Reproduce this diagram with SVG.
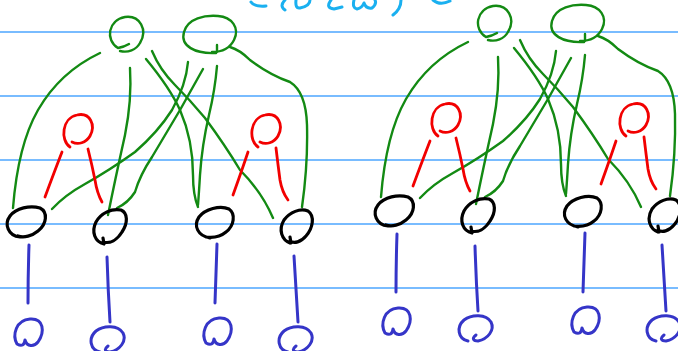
<svg xmlns="http://www.w3.org/2000/svg" width="678" height="351" viewBox="0 0 678 351">
<style>
.rule{stroke:#4da6ff;stroke-width:1.5;fill:none}
.cy{stroke:#1ab0f0;stroke-width:3;fill:none;stroke-linecap:round;stroke-linejoin:round}
.g{stroke:#138a13;stroke-width:2.4;fill:none;stroke-linecap:round;stroke-linejoin:round}
.r{stroke:#f20000;stroke-width:2.8;fill:none;stroke-linecap:round;stroke-linejoin:round}
.k{stroke:#000;stroke-width:3.2;fill:none;stroke-linecap:round;stroke-linejoin:round}
.b{stroke:#3535c8;stroke-width:3;fill:none;stroke-linecap:round;stroke-linejoin:round}
</style>
<rect width="678" height="351" fill="#fff"/>
<g id="rules">
<line class="rule" x1="0" y1="32" x2="678" y2="32"/>
<line class="rule" x1="0" y1="96" x2="678" y2="96"/>
<line class="rule" x1="0" y1="160" x2="678" y2="160"/>
<line class="rule" x1="0" y1="224" x2="678" y2="224"/>
<line class="rule" x1="0" y1="288" x2="678" y2="288"/>
</g>
<g id="cutoff-strokes">
<path class="cy" d="M251,2 Q254,7 266,6"/>
<path class="cy" d="M285,0 Q279,6 285,10"/>
<path class="cy" d="M296,0 Q295,9 300,8 Q310,6 310,0"/>
<path class="cy" d="M331,0 Q325,8 334,9 L342,7"/>
<path class="cy" d="M354,0 Q352,8 357,9 Q362,8 364,3 Q366,9 372,8 Q377,4 375,0"/>
<path class="cy" d="M401,0 Q401,9 393,15"/>
<path class="cy" d="M433,0 Q440,6 450,1"/>
</g>

<g id="groupA">
<g id="A-connectors">
<path class="g" d="M100,53 Q60,72 38,110 Q18,145 13,208"/>
<path class="g" d="M130,68 Q132,100 125,135 Q115,180 108,215"/>
<path class="g" d="M146,59 Q170,88 180,110 Q193,140 193,175 Q193,195 198,207"/>
<path class="g" d="M152,51 Q160,70 175,85 Q190,100 205,118 Q225,145 240,170 Q262,192 273,218"/>
<path class="g" d="M188,62 Q186,85 172,110 Q158,132 135,152 Q110,170 85,184 Q65,195 52,209"/>
<path class="g" d="M203,69 Q190,92 180,110 Q165,135 152,157 Q140,175 135,192 Q128,203 117,208"/>
<path class="g" d="M217,66 Q215,90 209,115 Q202,145 200,175 Q199,192 198,205"/>
<path class="g" d="M230,47 Q240,50 250,60 Q270,75 290,82 Q306,92 307,125 Q308,165 302,207"/>
<path class="r" d="M62,152 Q55,170 45,197"/>
<path class="r" d="M88,149 Q92,165 95,180 Q97,193 102,202"/>
<path class="r" d="M248,152 Q242,170 233,195"/>
<path class="r" d="M276,148 Q278,165 280,180 Q282,192 288,200"/>
<path class="b" d="M29,245 Q28,275 28,303"/>
<path class="b" d="M107,257 Q108,290 110,322"/>
<path class="b" d="M217,244 Q216,275 215,303"/>
<path class="b" d="M294,256 Q296,290 298,322"/>
</g>
<g id="A-green1"><path class="g" d="M118,48 C105,40 108,20 125,17 C140,15 148,30 140,43 C136,50 128,53 120,51 M118,48 Q124,47 129,44"/></g>
<g id="A-green2"><path class="g" d="M216,53 C195,54 180,46 184,32 C188,18 205,15 218,16 C232,17 240,28 234,40 C230,48 222,52 212,52 M217,45 L217,52"/></g>
<g id="A-red1"><path class="r" d="M70,147 C60,140 62,118 77,115 C90,112 96,125 90,136 C86,143 78,145 72,142"/></g>
<g id="A-red2"><path class="r" d="M258,147 C248,140 250,118 265,115 C278,112 284,125 278,136 C274,143 266,145 260,142"/></g>
<g id="A-black1"><path class="k" d="M20,237 C8,236 4,224 10,216 C16,208 30,205 40,208 C48,212 47,224 38,231 C32,236 24,238 18,236"/></g>
<g id="A-black2"><path class="k" d="M104,244 C95,242 91,232 96,222 C101,213 112,208 121,210 C128,213 128,223 122,232 C117,240 110,244 103,242 M103,238 L104,244"/></g>
<g id="A-black3"><path class="k" d="M210,238 C198,236 193,226 199,217 C205,209 220,205 229,209 C236,214 234,226 226,232 C220,237 213,238 206,237"/></g>
<g id="A-black4"><path class="k" d="M290,243 C282,240 278,230 284,220 C290,212 300,208 308,211 C315,216 313,228 306,236 C301,242 294,244 290,241 M290,237 L291,243"/></g>
<g id="A-blue1"><path class="b" d="M25,340 Q24,348 17,344 C12,335 16,320 30,319 C44,318 45,332 38,342 C34,347 27,347 25,340"/></g>
<g id="A-blue2"><path class="b" d="M100,352 C90,350 88,338 96,331 C104,325 118,325 123,333 C127,341 120,350 110,352 C106,352 103,350 108,346"/></g>
<g id="A-blue3"><path class="b" d="M214,339 Q213,347 206,343 C201,334 205,319 219,318 C233,317 234,331 227,341 C223,346 216,346 214,339"/></g>
<g id="A-blue4"><path class="b" d="M288,352 C278,350 276,338 284,331 C292,325 306,325 311,333 C315,341 308,350 298,352 C294,352 291,350 296,346"/></g>
</g>

<g id="groupB" transform="translate(368,-11)">
<g id="B-connectors">
<path class="g" d="M100,53 Q60,72 38,110 Q18,145 13,208"/>
<path class="g" d="M130,68 Q132,100 125,135 Q115,180 108,215"/>
<path class="g" d="M146,59 Q170,88 180,110 Q193,140 193,175 Q193,195 198,207"/>
<path class="g" d="M152,51 Q160,70 175,85 Q190,100 205,118 Q225,145 240,170 Q262,192 273,218"/>
<path class="g" d="M188,62 Q186,85 172,110 Q158,132 135,152 Q110,170 85,184 Q65,195 52,209"/>
<path class="g" d="M203,69 Q190,92 180,110 Q165,135 152,157 Q140,175 135,192 Q128,203 117,208"/>
<path class="g" d="M217,66 Q215,90 209,115 Q202,145 200,175 Q199,192 198,205"/>
<path class="g" d="M230,47 Q240,50 250,60 Q270,75 290,82 Q306,92 307,125 Q308,165 302,207"/>
<path class="r" d="M62,152 Q55,170 45,197"/>
<path class="r" d="M88,149 Q92,165 95,180 Q97,193 102,202"/>
<path class="r" d="M248,152 Q242,170 233,195"/>
<path class="r" d="M276,148 Q278,165 280,180 Q282,192 288,200"/>
<path class="b" d="M29,245 Q28,275 28,303"/>
<path class="b" d="M107,257 Q108,290 110,322"/>
<path class="b" d="M217,244 Q216,275 215,303"/>
<path class="b" d="M294,256 Q296,290 298,322"/>
</g>
<g id="B-green1"><path class="g" d="M118,48 C105,40 108,20 125,17 C140,15 148,30 140,43 C136,50 128,53 120,51 M118,48 Q124,47 129,44"/></g>
<g id="B-green2"><path class="g" d="M216,53 C195,54 180,46 184,32 C188,18 205,15 218,16 C232,17 240,28 234,40 C230,48 222,52 212,52 M217,45 L217,52"/></g>
<g id="B-red1"><path class="r" d="M70,147 C60,140 62,118 77,115 C90,112 96,125 90,136 C86,143 78,145 72,142"/></g>
<g id="B-red2"><path class="r" d="M258,147 C248,140 250,118 265,115 C278,112 284,125 278,136 C274,143 266,145 260,142"/></g>
<g id="B-black1"><path class="k" d="M20,237 C8,236 4,224 10,216 C16,208 30,205 40,208 C48,212 47,224 38,231 C32,236 24,238 18,236"/></g>
<g id="B-black2"><path class="k" d="M104,244 C95,242 91,232 96,222 C101,213 112,208 121,210 C128,213 128,223 122,232 C117,240 110,244 103,242 M103,238 L104,244"/></g>
<g id="B-black3"><path class="k" d="M210,238 C198,236 193,226 199,217 C205,209 220,205 229,209 C236,214 234,226 226,232 C220,237 213,238 206,237"/></g>
<g id="B-black4"><path class="k" d="M290,243 C282,240 278,230 284,220 C290,212 300,208 308,211 C315,216 313,228 306,236 C301,242 294,244 290,241 M290,237 L291,243"/></g>
<g id="B-blue1"><path class="b" d="M25,340 Q24,348 17,344 C12,335 16,320 30,319 C44,318 45,332 38,342 C34,347 27,347 25,340"/></g>
<g id="B-blue2"><path class="b" d="M100,352 C90,350 88,338 96,331 C104,325 118,325 123,333 C127,341 120,350 110,352 C106,352 103,350 108,346"/></g>
<g id="B-blue3"><path class="b" d="M214,339 Q213,347 206,343 C201,334 205,319 219,318 C233,317 234,331 227,341 C223,346 216,346 214,339"/></g>
<g id="B-blue4"><path class="b" d="M288,352 C278,350 276,338 284,331 C292,325 306,325 311,333 C315,341 308,350 298,352 C294,352 291,350 296,346"/></g>
</g>
</svg>
